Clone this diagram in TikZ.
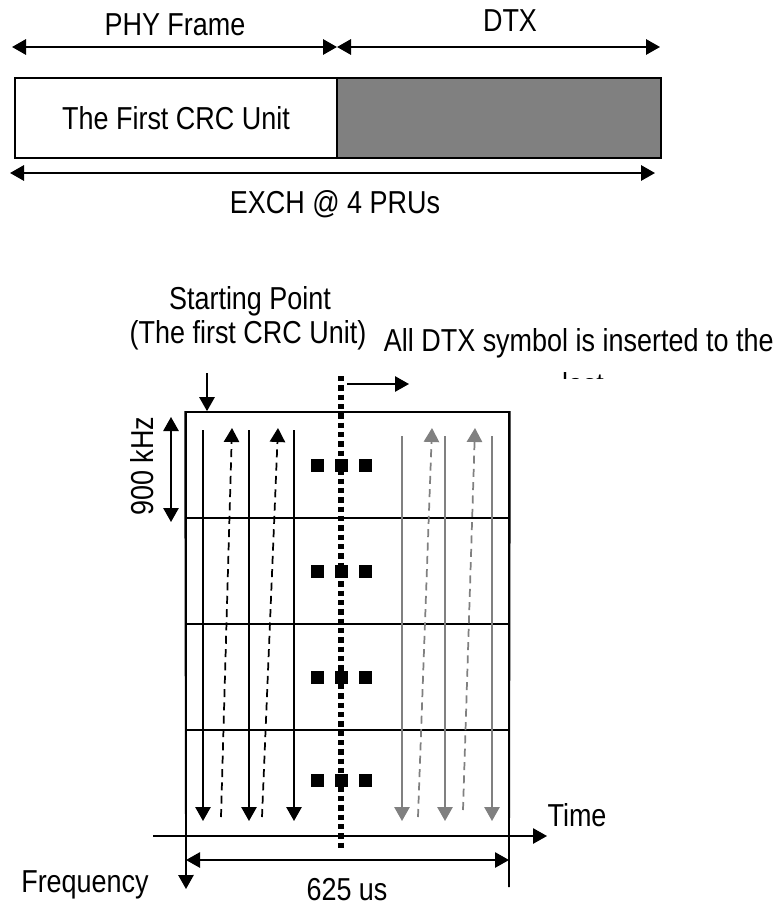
\documentclass[tikz,border=0pt]{standalone}
\usepackage{fontspec}
\setmainfont[FakeStretch=0.85]{Liberation Sans}
\usetikzlibrary{arrows.meta}

\begin{document}
\begin{tikzpicture}[x=0.75pt, y=-0.75pt, line width=1.3pt,
  every node/.style={font=\fontsize{23.8}{28}\selectfont, inner sep=0pt},
  tip/.style={-{Triangle[length=10.5pt,width=11.5pt]}},
  dbl/.style={{Triangle[length=10.5pt,width=11.5pt]}-{Triangle[length=10.5pt,width=11.5pt]}},
  unitbox/.style={draw, minimum height=60pt},
  cell/.style={draw, minimum width=242.25pt, minimum height=79.5pt},
  dashup/.style={tip, dashed, dash pattern=on 6pt off 4pt},
  dtxgray/.style={draw=gray, color=gray}]
\useasboundingbox (0,0) rectangle (779,906);

% frame structure
\node (phy) at (175,25) {PHY Frame};
\node (dtx) at (510,21) {DTX};
\coordinate (f0) at (12,47);
\coordinate (f1) at (337,47);
\coordinate (f2) at (660,47);
\draw[dbl, line width=1.6pt] (f0) -- (f1);
\draw[dbl, line width=1.6pt] (f1) -- (f2);
\node[unitbox, minimum width=241.5pt] (crc) at (176,118) {The First CRC Unit};
\node[unitbox, minimum width=243pt, fill=gray] (dtxbox) at (499,118) {};
\coordinate (e0) at (10,173);
\coordinate (e1) at (655,173);
\draw[dbl, line width=1.6pt] (e0) -- (e1);
\node (exch) at (335,204) {EXCH @ 4 PRUs};

% time-frequency grid
\node (start) at (250,301) {Starting Point};
\node (first) at (248,335) {(The first CRC Unit)};
\node[anchor=west] (alldtx) at (383,343) {All DTX symbol is inserted to the};
\begin{scope}
  \clip (360,355) rectangle (779,378);
  \node (last) at (583,384) {last};
\end{scope}
\foreach \r in {0,...,3}
  \node[cell] (row\r) at (347.5,465+106*\r) {};
\coordinate (s0) at (207,373);
\draw[tip] (s0) -- (row0.north west -| s0);

% axes
\coordinate (t0) at (153,836);
\coordinate (t1) at (547,836);
\draw[tip] (t0) -- (t1);
\node (time) at (577,815) {Time};
\coordinate (fq) at (186,889);
\draw[tip] (row0.north west) -- (fq);
\node (freq) at (85,885) {Frequency};
\coordinate (r1) at (509,887);
\draw (row0.north east) -- (r1);
\coordinate (u0) at (186,860);
\coordinate (u1) at (509,860);
\draw[dbl] (u0) -- (u1);
\node (us) at (347,890) {625 us};
\coordinate (k0) at (171,417);
\coordinate (k1) at (171,522);
\draw[dbl] (k0) -- (k1);
\node[rotate=90] (khz) at (142,466) {900 kHz};

% DTX boundary
\coordinate (d0) at (341,376);
\coordinate (d1) at (341,849);
\draw[line width=4.2pt, dash pattern=on 4pt off 3pt] (d0) -- (d1);
\coordinate (m0) at (347,384);
\coordinate (m1) at (409,384);
\draw[tip] (m0) -- (m1);

% symbol sweeps
\foreach \x in {203,249,294}
  \draw[tip] (\x,430) -- (\x,821);
\foreach \x/\y in {221/232,262/278}
  \draw[dashup] (\x,817) -- (\y,428);
\foreach \x in {402,445,492}
  \draw[tip, dtxgray] (\x,436) -- (\x,821);
\foreach \x/\y/\b in {418/432/817,463/475/810}
  \draw[dashup, dtxgray] (\x,\b) -- (\y,428);
\foreach \r in {465,571,677,780}
  \foreach \x in {317,341,365}
    \fill (\x-6.5,\r-6.5) rectangle (\x+6.5,\r+6.5);
\end{tikzpicture}
\end{document}
